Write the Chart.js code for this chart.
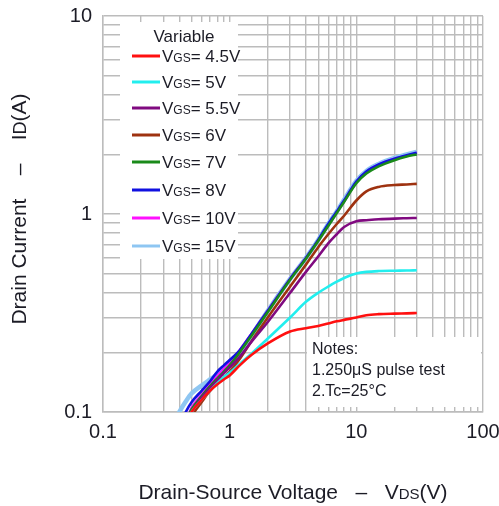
<!DOCTYPE html>
<html><head><meta charset="utf-8">
<script src="https://cdn.jsdelivr.net/npm/chart.js@4/dist/chart.umd.min.js"></script>
<style>html,body{margin:0;padding:0;background:#fff;} canvas{display:block;}</style>
</head><body>
<canvas id="c" width="499" height="506" style="width:499px;height:506px"></canvas>
<script>
// ---- data ----
const vds = [0.35,0.4,0.45,0.5,0.6,0.7,0.8,0.9,1,1.2,1.5,2,3,4,5,6,7,8,10,12,15,20,25,30];
const idVgs45 = [0.065,0.077,0.088,0.1,0.115,0.128,0.138,0.146,0.153,0.172,0.195,0.222,0.255,0.265,0.272,0.28,0.287,0.292,0.3,0.308,0.312,0.314,0.315,0.316];
const idVgs5  = [0.065,0.077,0.088,0.1,0.115,0.128,0.14,0.15,0.158,0.175,0.198,0.235,0.3,0.36,0.4,0.43,0.455,0.475,0.5,0.51,0.515,0.517,0.518,0.52];
const idVgs55 = [0.065,0.078,0.09,0.1,0.118,0.132,0.145,0.157,0.168,0.19,0.228,0.285,0.4,0.51,0.61,0.71,0.79,0.86,0.92,0.93,0.94,0.948,0.952,0.955];
const idVgs6  = [0.06,0.072,0.083,0.095,0.112,0.128,0.14,0.15,0.16,0.185,0.23,0.3,0.43,0.555,0.68,0.79,0.89,0.98,1.17,1.3,1.37,1.4,1.41,1.42];
const idVgs7  = [0.065,0.078,0.09,0.103,0.12,0.135,0.148,0.16,0.172,0.2,0.245,0.32,0.465,0.595,0.73,0.87,1.01,1.15,1.43,1.6,1.74,1.87,1.95,2.0];
const idVgs8  = [0.07,0.085,0.1,0.112,0.128,0.143,0.16,0.172,0.183,0.205,0.25,0.325,0.47,0.6,0.74,0.89,1.03,1.17,1.46,1.64,1.78,1.9,1.98,2.04];
const idVgs10 = [0.065,0.078,0.09,0.105,0.122,0.138,0.152,0.165,0.177,0.205,0.25,0.325,0.47,0.6,0.735,0.88,1.02,1.16,1.45,1.63,1.77,1.9,1.97,2.03];
const idVgs15 = [0.085,0.1,0.113,0.124,0.136,0.146,0.155,0.165,0.175,0.2,0.245,0.325,0.47,0.6,0.74,0.89,1.03,1.18,1.47,1.65,1.79,1.92,2.0,2.06];
const seriesLabels = ['4.5V','5V','5.5V','6V','7V','8V','10V','15V'];
const seriesColors = ['#ff1010','#22eeee','#800a80','#9e3210','#1a8a1a','#1010e0','#ff10ff','#8ec6f2'];
const xTickValues = [0.1,0.2,0.3,0.4,0.5,0.6,0.7,0.8,0.9,1,2,3,4,5,6,7,8,9,10,20,30,40,50,60,70,80,90,100];
const xTickLabels = ['0.1','1','10','100'];
const yTickValues = [0.1,0.2,0.3,0.4,0.5,0.6,0.7,0.8,0.9,1,2,3,4,5,6,7,8,9,10];
const yTickLabels = ['0.1','1','10'];
const legendTitle = 'Variable';
const notesLines = ['Notes:','1.250\u03bcS pulse test','2.Tc=25\u00b0C'];

const seriesValues = [idVgs45,idVgs5,idVgs55,idVgs6,idVgs7,idVgs8,idVgs10,idVgs15];
const FONT = '"Liberation Sans", Arial, sans-serif';
const TXT = '#1c1c26';
const GRID = '#bcbcbc';

function drawRich(ctx, parts, x, y, align) {
  let total = 0;
  parts.forEach(p => { ctx.font = p.size + 'px ' + FONT; p.w = ctx.measureText(p.t).width; total += p.w; });
  let cx = align === 'center' ? x - total / 2 : x;
  ctx.textAlign = 'left';
  ctx.textBaseline = 'alphabetic';
  parts.forEach(p => { ctx.font = p.size + 'px ' + FONT; ctx.fillText(p.t, cx, y); cx += p.w; });
}

const decor = {
  id: 'decor',
  beforeDatasetsDraw(chart) {
    const ctx = chart.ctx;
    ctx.save();
    ctx.fillStyle = '#fff';
    ctx.fillRect(120, 22, 118, 237);
    ctx.fillRect(307, 337, 174, 70);
    ctx.fillStyle = TXT;
    ctx.font = '17px ' + FONT;
    ctx.textAlign = 'center';
    ctx.textBaseline = 'alphabetic';
    ctx.fillText(legendTitle, 184, 42);
    const rows = [56, 82, 108, 135, 162, 190, 218, 246];
    chart.data.datasets.forEach((ds, i) => {
      const y = rows[i];
      ctx.strokeStyle = ds.borderColor;
      ctx.lineWidth = 3;
      ctx.beginPath(); ctx.moveTo(132, y); ctx.lineTo(160, y); ctx.stroke();
      ctx.fillStyle = TXT;
      drawRich(ctx, [{t:'V',size:17},{t:'GS',size:12},{t:'= ' + seriesLabels[i], size:17}], 162, y + 6, 'left');
    });
    ctx.fillStyle = TXT;
    ctx.font = '16px ' + FONT;
    ctx.textAlign = 'left';
    notesLines.forEach((t, i) => ctx.fillText(t, 312, 354 + i * 21));
    ctx.restore();
  },
  afterDraw(chart) {
    const ctx = chart.ctx;
    ctx.save();
    ctx.fillStyle = TXT;
    drawRich(ctx, [{t:'Drain-Source Voltage   \u2013   V',size:21},{t:'DS',size:15},{t:'(V)',size:21}], 293, 499, 'center');
    ctx.translate(26, 209);
    ctx.rotate(-Math.PI / 2);
    drawRich(ctx, [{t:'Drain Current    \u2013    I',size:21},{t:'D',size:18},{t:'(A)',size:21}], 0, 0, 'center');
    ctx.restore();
  }
};

new Chart(document.getElementById('c'), {
  type: 'line',
  data: {
    datasets: seriesValues.map((arr, i) => ({
      label: 'VGS= ' + seriesLabels[i],
      data: vds.map((x, j) => ({x: x, y: arr[j]})),
      borderColor: seriesColors[i],
      backgroundColor: seriesColors[i],
      borderWidth: i === 7 ? 4.5 : 2.6,
      pointRadius: 0,
      cubicInterpolationMode: 'monotone',
      fill: false
    }))
  },
  options: {
    responsive: false,
    animation: false,
    devicePixelRatio: 1,
    layout: { padding: { top: 16, right: 16, left: 0, bottom: 0 } },
    plugins: { legend: { display: false }, tooltip: { enabled: false }, title: { display: false } },
    scales: {
      x: {
        type: 'logarithmic', min: 0.1, max: 100,
        afterBuildTicks: s => { s.ticks = xTickValues.map(v => ({value: v})); },
        afterFit: s => { s.height = 94; s.paddingLeft = 0; s.paddingRight = 0; },
        grid: { color: GRID, lineWidth: 1.4, drawTicks: false },
        border: { color: GRID, width: 1.4 },
        ticks: {
          autoSkip: false, maxRotation: 0, padding: 8,
          color: TXT, font: { family: FONT, size: 20 },
          callback: v => xTickLabels.includes(String(v)) ? String(v) : ''
        }
      },
      y: {
        type: 'logarithmic', min: 0.1, max: 10,
        afterBuildTicks: s => { s.ticks = yTickValues.map(v => ({value: v})); },
        afterFit: s => { s.width = 103; s.paddingTop = 0; s.paddingBottom = 0; },
        grid: { color: GRID, lineWidth: 1.4, drawTicks: false },
        border: { color: GRID, width: 1.4 },
        ticks: {
          autoSkip: false, padding: 11,
          color: TXT, font: { family: FONT, size: 20 },
          callback: v => yTickLabels.includes(String(v)) ? String(v) : ''
        }
      }
    }
  },
  plugins: [decor]
});
</script>
</body></html>
